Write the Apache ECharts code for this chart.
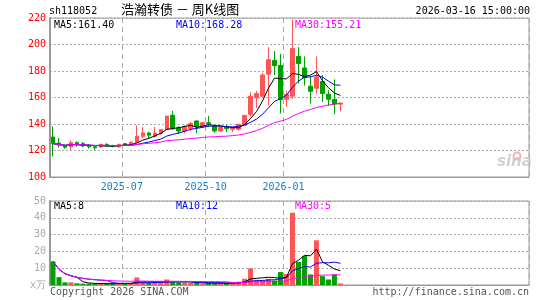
<!DOCTYPE html>
<html>
<head>
<meta charset="utf-8">
<script src="https://cdn.jsdelivr.net/npm/echarts@6/dist/echarts.min.js"></script>
<style>
html, body { margin: 0; padding: 0; background: #fff; }
#chart { width: 545px; height: 300px; }
</style>
</head>
<body>
<div id="chart"></div>
<script>
// weekly bars, dated by last trading day of the week
var weeks = [
  '2025-04-11','2025-04-18','2025-04-25','2025-04-30','2025-05-09','2025-05-16','2025-05-23','2025-05-30',
  '2025-06-06','2025-06-13','2025-06-20','2025-06-27','2025-07-04','2025-07-11','2025-07-18','2025-07-25',
  '2025-08-01','2025-08-08','2025-08-15','2025-08-22','2025-08-29','2025-09-05','2025-09-12','2025-09-19',
  '2025-09-26','2025-09-30','2025-10-10','2025-10-17','2025-10-24','2025-10-31','2025-11-07','2025-11-14',
  '2025-11-21','2025-11-28','2025-12-05','2025-12-12','2025-12-19','2025-12-26','2025-12-31','2026-01-09',
  '2026-01-16','2026-01-23','2026-01-30','2026-02-06','2026-02-13','2026-02-27','2026-03-06','2026-03-13',
  '2026-03-16'
];
var opens = [
  130.2,125.7,123.6,122.7,126.0,125.2,123.9,122.8,122.8,124.6,123.8,122.8,125.2,124.0,126.0,130.7,
  133.2,130.7,132.8,135.8,146.6,137.0,134.7,136.5,142.3,138.0,141.0,138.5,134.7,138.0,136.0,136.0,
  139.0,147.3,159.7,160.9,177.6,188.0,184.3,158.6,161.0,191.0,182.3,168.5,167.0,172.0,162.5,158.6,
  155.0
];
var closes = [
  125.2,124.0,122.4,126.0,124.5,123.5,122.8,122.0,124.6,123.5,123.2,124.6,124.0,126.3,130.7,133.3,
  131.6,133.2,135.8,146.0,136.4,134.7,137.8,140.3,138.0,141.0,140.3,134.7,137.8,136.5,137.0,139.8,
  146.5,160.9,163.0,177.0,188.5,184.0,158.5,162.4,197.0,185.6,175.0,164.7,175.5,163.0,158.7,155.0,
  155.8
];
var lows = [
  115.6,122.2,121.4,120.2,123.0,122.5,121.5,120.5,122.0,122.8,122.5,122.0,123.5,123.5,125.2,129.0,
  129.0,129.5,132.0,135.5,135.5,132.5,133.0,134.5,133.0,137.0,137.8,133.5,134.0,134.0,134.0,135.0,
  138.5,145.5,152.0,160.4,154.0,177.0,148.0,153.0,159.0,170.5,169.0,155.5,163.0,156.5,153.5,147.5,
  149.5
];
var highs = [
  138.3,129.5,124.5,127.7,127.0,126.5,124.8,123.5,125.2,125.5,124.3,125.2,125.5,126.8,139.0,137.8,
  134.0,137.8,136.0,146.0,149.8,138.3,139.0,141.5,142.5,141.5,146.0,139.5,138.0,139.5,137.5,140.0,
  147.0,164.0,165.0,178.5,198.0,195.0,193.0,165.0,219.0,198.0,191.0,176.0,191.0,177.0,165.5,173.7,
  156.2
];
// volume, x10k
var volumes = [
  14.0,4.7,1.6,1.6,1.0,0.8,0.8,0.7,1.0,0.8,0.7,1.0,1.2,1.2,4.5,1.6,
  1.2,1.6,1.6,3.3,1.6,1.5,1.5,1.3,1.2,0.7,1.3,1.0,1.0,1.2,1.3,2.0,
  3.7,9.9,3.1,2.7,3.7,2.7,7.7,6.5,43.0,13.7,17.3,6.3,26.6,5.3,3.3,6.3,
  0.9
];
var monthStarts = ['2025-07-04', '2025-10-10', '2026-01-09'];
var priceLegend = ['MA5:161.40', 'MA10:168.28', 'MA30:155.21'];
var volumeLegend = ['MA5:8', 'MA10:12', 'MA30:5'];
var maColors = ['#000000', '#0000ff', '#ff00ff'];

var UP = '#ff5555', DOWN = '#00a000';
var MONO = '"DejaVu Sans Mono", monospace';

// empty slots after the last week, the chart leaves room on the right
var cats = weeks.slice();
for (var k = weeks.length; k < 80; k++) cats.push('pad' + k);

function movingAvg(arr, n) {
  return arr.map(function (v, i) {
    var s = 0, c = 0;
    for (var j = Math.max(0, i - n + 1); j <= i; j++) { s += arr[j]; c++; }
    return +(s / c).toFixed(2);
  });
}

var candles = weeks.map(function (d, i) {
  return [opens[i], closes[i], lows[i], highs[i]];
});
var volBars = volumes.map(function (v, i) {
  return { value: v, itemStyle: { color: closes[i] >= opens[i] ? UP : DOWN } };
});

function isMonth(i, v) { return monthStarts.indexOf(v) >= 0; }

function xAxisFor(gridIndex, withLabels) {
  return {
    type: 'category', gridIndex: gridIndex, data: cats, boundaryGap: true,
    axisLine: { show: true, lineStyle: { color: '#999', width: 1 } },
    axisTick: { show: false },
    axisLabel: withLabels ? {
      interval: isMonth, color: '#1a7cc9', fontFamily: MONO, fontSize: 10, margin: 5,
      padding: [0, 6, 0, 0],
      formatter: function (v) { return v.slice(0, 7); }
    } : { show: false },
    splitLine: { show: true, interval: isMonth, lineStyle: { color: '#aaa', type: [5, 4], width: 1 } }
  };
}

function maLines(data, xi, yi) {
  return [5, 10, 30].map(function (n, k) {
    return {
      type: 'line', xAxisIndex: xi, yAxisIndex: yi, data: movingAvg(data, n),
      showSymbol: false, symbol: 'none', silent: true,
      lineStyle: { color: maColors[k], width: 1 }, z: 3 + k
    };
  });
}

function legendText(items, y) {
  var xs = [54, 176, 295];
  return items.map(function (t, k) {
    return { type: 'text', left: xs[k], top: y, silent: true,
      style: { text: t, fill: maColors[k], font: '10px ' + MONO } };
  });
}

var myChart = echarts.init(document.getElementById('chart'));
myChart.setOption({
  animation: false,
  backgroundColor: '#fff',
  grid: [
    { left: 50, top: 18, width: 479, height: 159, show: true, borderColor: '#999', borderWidth: 1 },
    { left: 50, top: 201, width: 479, height: 84, show: true, borderColor: '#999', borderWidth: 1 }
  ],
  xAxis: [xAxisFor(0, true), xAxisFor(1, false)],
  yAxis: [
    {
      gridIndex: 0, min: 100, max: 220, interval: 20,
      axisLine: { show: true, lineStyle: { color: '#999', width: 2 } },
      axisTick: { show: false },
      axisLabel: { color: '#ff0000', fontFamily: MONO, fontSize: 10, margin: 4 },
      splitLine: { show: true, lineStyle: { color: '#aaa', type: [2, 2] } }
    },
    {
      gridIndex: 1, min: 0, max: 50, interval: 10,
      axisLine: { show: true, lineStyle: { color: '#999', width: 2 } },
      axisTick: { show: false },
      axisLabel: {
        color: '#aaa', fontFamily: MONO, fontSize: 10, margin: 4,
        formatter: function (v) { return v === 0 ? 'x万' : v; }
      },
      splitLine: { show: true, lineStyle: { color: '#aaa', type: [2, 2] } }
    }
  ],
  series: [
    {
      type: 'candlestick', xAxisIndex: 0, yAxisIndex: 0, data: candles, barWidth: 4,
      itemStyle: { color: UP, color0: DOWN, borderColor: UP, borderColor0: DOWN, borderWidth: 1 },
      z: 2
    },
    {
      type: 'bar', xAxisIndex: 1, yAxisIndex: 1, data: volBars, barWidth: 5, z: 2
    }
  ].concat(maLines(closes, 0, 0)).concat(maLines(volumes, 1, 1)),
  graphic: [
    { type: 'text', left: 49, top: 6, style: { text: 'sh118052', fill: '#000', font: '10px ' + MONO } },
    { type: 'text', left: 121, top: 3, style: { text: '浩瀚转债 － 周K线图', fill: '#000', font: '13px "Noto Sans CJK SC"' } },
    { type: 'text', right: 15, top: 6, style: { text: '2026-03-16 15:00:00', fill: '#000', font: '10px ' + MONO } },
    { type: 'text', left: 497, top: 155, style: { text: 'sina', fill: '#d0d0d0', font: 'italic bold 15px "DejaVu Sans"' } },
    { type: 'circle', shape: { cx: 517, cy: 156, r: 3.5 }, style: { fill: 'none', stroke: '#f3b5b5', lineWidth: 2 } },
    { type: 'text', left: 50, top: 287, style: { text: 'Copyright 2026 SINA.COM', fill: '#555', font: '10px ' + MONO } },
    { type: 'text', right: 16, top: 287, style: { text: 'http://finance.sina.com.cn', fill: '#555', font: '10px ' + MONO } }
  ].concat(legendText(priceLegend, 20)).concat(legendText(volumeLegend, 201))
});
</script>
</body>
</html>
